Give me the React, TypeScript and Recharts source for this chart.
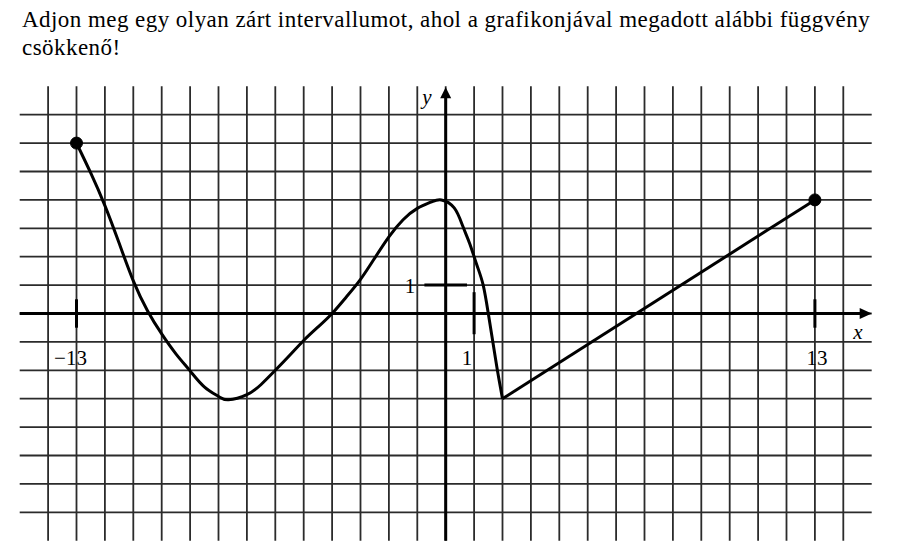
import {
  LineChart,
  Line,
  XAxis,
  YAxis,
  CartesianGrid,
  ReferenceLine,
  ReferenceDot,
} from "recharts";

const titleLines = [
  "Adjon meg egy olyan zárt intervallumot, ahol a grafikonjával megadott alábbi függvény",
  "csökkenő!",
];

// curved part of the graph
const curveX = [
  -13, -12.5, -12, -11.5, -11, -10.5, -10, -9.5, -9, -8.5, -8, -7.65, -7, -6.5,
  -6, -5.5, -5, -4.5, -4, -3.5, -3, -2.5, -2, -1.5, -1, -0.5, -0.15, 0.3, 0.6,
  0.85, 1.1, 1.32, 1.5, 1.66, 1.82, 2,
];
const curveY = [
  6, 4.95, 3.8, 2.48, 1.15, 0.1, -0.72, -1.42, -2.02, -2.58, -2.92, -3.04,
  -2.86, -2.5, -2.0, -1.48, -0.95, -0.48, 0, 0.58, 1.2, 1.95, 2.7, 3.3, 3.7,
  3.93, 4.0, 3.72, 3.08, 2.45, 1.7, 1.0, 0, -1, -2, -3,
];

// straight part
const lineX = [2, 13];
const lineY = [-3, 4];

// grid
const gridX = [
  -14, -13, -12, -11, -10, -9, -8, -7, -6, -5, -4, -3, -2, -1, 0, 1, 2, 3, 4,
  5, 6, 7, 8, 9, 10, 11, 12, 13, 14,
];
const gridY = [-7, -6, -5, -4, -3, -2, -1, 0, 1, 2, 3, 4, 5, 6, 7];

// tick labels on the axes
const xTicks = [-13, 1, 13];
const xTickLabels = ["−13", "1", "13"];
const yTicks = [1];
const yTickLabels = ["1"];

const serif = "'Liberation Serif', 'Times New Roman', serif";

const curveData = curveX.map((x, i) => ({ x, y: curveY[i] }));
const lineData = lineX.map((x, i) => ({ x, y: lineY[i] }));

const labelShape =
  (text: string, dx: number, dy: number, italic = false) =>
  (props: any) => (
    <text
      x={props.cx + dx}
      y={props.cy + dy}
      textAnchor="middle"
      fontFamily={serif}
      fontSize={21}
      fontStyle={italic ? "italic" : "normal"}
      fill="#000">
      {text}
    </text>
  );

const xLabelShift: Record<string, number> = { "−13": -6, "1": -7, "13": 2 };

export default function App() {
  return (
    <div
      style={{
        position: "absolute",
        left: 0,
        top: 0,
        width: 910,
        height: 555,
        background: "#fff",
      }}>
      <div
        style={{
          position: "absolute",
          left: 22,
          top: 6,
          fontFamily: serif,
          fontSize: 23,
          letterSpacing: 0.45,
          lineHeight: "27.5px",
          color: "#000",
          whiteSpace: "nowrap",
        }}>
        {titleLines.map((t) => (
          <div key={t}>{t}</div>
        ))}
      </div>

      <div style={{ position: "absolute", left: 0, top: 0 }}>
        <LineChart
          width={910}
          height={555}
          margin={{ top: 86.3, right: 38.3, bottom: 14.3, left: 19.7 }}>
          <XAxis
            type="number"
            dataKey="x"
            domain={[-15, 15]}
            allowDataOverflow
            hide
          />
          <YAxis type="number" domain={[-8, 8]} allowDataOverflow hide />
          <CartesianGrid
            horizontalValues={gridY}
            verticalValues={gridX}
            stroke="#2b2b2b"
            strokeWidth={1.8}
          />

          {/* axes */}
          <ReferenceLine
            segment={[
              { x: -15, y: 0 },
              { x: 14.6, y: 0 },
            ]}
            stroke="#000"
            strokeWidth={3}
          />
          <ReferenceLine
            segment={[
              { x: 0, y: -8 },
              { x: 0, y: 7.6 },
            ]}
            stroke="#000"
            strokeWidth={3}
          />
          <ReferenceDot
            x={15}
            y={0}
            r={1}
            shape={(p: any) => (
              <polygon
                points={`${p.cx},${p.cy} ${p.cx - 12},${p.cy - 5.5} ${p.cx - 12},${p.cy + 5.5}`}
                fill="#000"
              />
            )}
          />
          <ReferenceDot
            x={0}
            y={8}
            r={1}
            shape={(p: any) => (
              <polygon
                points={`${p.cx},${p.cy + 1} ${p.cx - 5.5},${p.cy + 12} ${p.cx + 5.5},${p.cy + 12}`}
                fill="#000"
              />
            )}
          />
          <ReferenceDot x={15} y={0} r={1} shape={labelShape("x", -13.7, 25.5, true)} />
          <ReferenceDot x={0} y={8} r={1} shape={labelShape("y", -18.7, 17.7, true)} />

          {/* tick marks and their labels */}
          {xTicks.map((t) => (
            <ReferenceLine
              key={"xt" + t}
              segment={[
                { x: t, y: t === 1 ? -0.73 : -0.5 },
                { x: t, y: t === 1 ? 0.75 : 0.5 },
              ]}
              stroke="#000"
              strokeWidth={3}
            />
          ))}
          {xTicks.map((t, i) => (
            <ReferenceDot
              key={"xl" + t}
              x={t}
              y={0}
              r={1}
              shape={labelShape(xTickLabels[i], xLabelShift[xTickLabels[i]], 51)}
            />
          ))}
          {yTicks.map((t) => (
            <ReferenceLine
              key={"yt" + t}
              segment={[
                { x: -0.75, y: t },
                { x: 0.75, y: t },
              ]}
              stroke="#000"
              strokeWidth={3}
            />
          ))}
          {yTicks.map((t, i) => (
            <ReferenceDot
              key={"yl" + t}
              x={0}
              y={t}
              r={1}
              shape={labelShape(yTickLabels[i], -35.7, 8)}
            />
          ))}

          {/* the function graph */}
          <Line
            data={curveData}
            dataKey="y"
            type="natural"
            stroke="#000"
            strokeWidth={3}
            dot={false}
            activeDot={false}
            isAnimationActive={false}
          />
          <Line
            data={lineData}
            dataKey="y"
            type="linear"
            stroke="#000"
            strokeWidth={3}
            dot={false}
            activeDot={false}
            isAnimationActive={false}
          />
          <ReferenceDot x={curveX[0]} y={curveY[0]} r={6} fill="#000" stroke="#000" />
          <ReferenceDot
            x={lineX[lineX.length - 1]}
            y={lineY[lineY.length - 1]}
            r={6}
            fill="#000"
            stroke="#000"
          />
        </LineChart>
      </div>
    </div>
  );
}
